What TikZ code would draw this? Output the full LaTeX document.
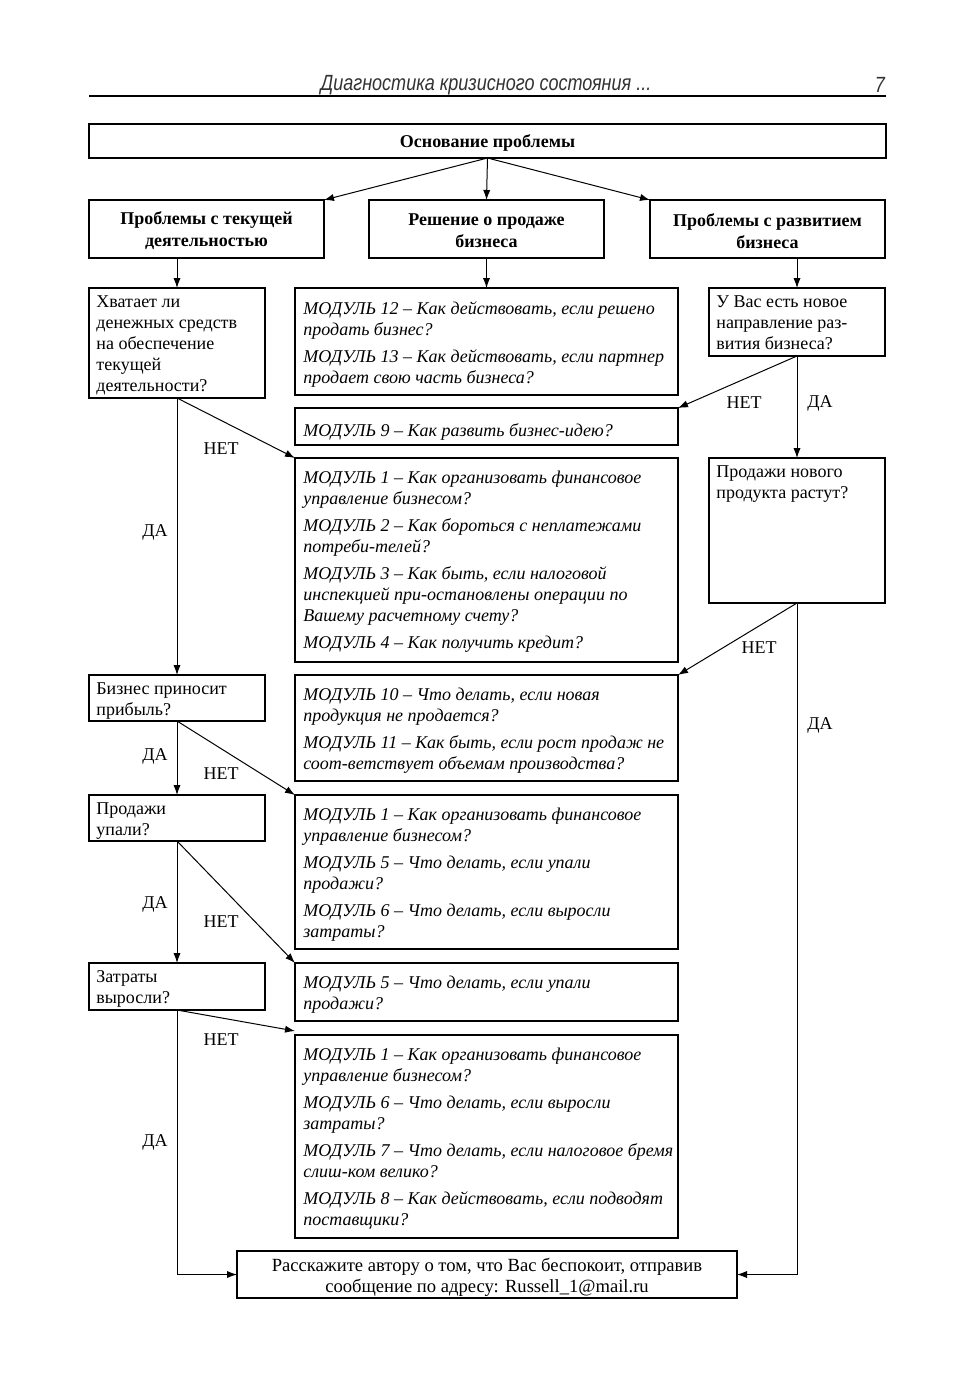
\documentclass[tikz,border=0pt]{standalone}
\usepackage{fontspec}
\setmainfont{Liberation Serif}
\newfontfamily\hdrfont[FakeStretch=0.82]{Liberation Sans}
\usetikzlibrary{arrows.meta}
\tikzset{
  box/.style={draw, line width=0.55pt, inner sep=0pt, outer sep=0pt},
  qtxt/.style={anchor=north west, inner sep=0pt, align=left,
    font=\fontsize{9}{10.5}\selectfont, execute at begin node=\strut},
  mtxt/.style={anchor=north west, inner sep=0pt, align=left,
    font=\fontsize{9}{10.5}\selectfont\itshape, execute at begin node=\strut},
  htxt/.style={inner sep=0pt, align=center, font=\fontsize{9}{11}\selectfont\bfseries},
  lbl/.style={inner sep=0pt, font=\fontsize{9}{10.5}\selectfont},
  arr/.style={-{Latex[length=5pt,width=3.6pt]}, line width=0.5pt}
}
\newcommand\mybox[5]{\node[box, minimum width={(#4-#2)*0.5pt}, minimum height={(#5-#3)*0.5pt}] (#1) at ({(#2+#4)/2},{(#3+#5)/2}) {};}
\begin{document}
\begin{tikzpicture}[x=0.5pt,y=-0.5pt]
\useasboundingbox[fill=white] (0,0) rectangle (975,1388);
% header
\node[inner sep=0pt, font=\hdrfont\itshape\fontsize{11}{13}\selectfont, text=black!80] (hdr) at (486,85) {Диагностика кризисного состояния ...};
\node[inner sep=0pt, font=\hdrfont\itshape\fontsize{11}{13}\selectfont, text=black!80] (pg) at (880,85) {7};
\coordinate (rl) at (89,96);
\coordinate (rr) at (886,96);
\draw[line width=0.6pt] (rl) -- (rr);
% top
\mybox{top}{89}{124}{886}{158}
\node[htxt] (topt) at ([yshift=-1pt]top.center) {Основание проблемы};
\mybox{h1}{89}{200}{324}{258}
\node[htxt] (h1t) at ([yshift=-1pt]h1.center) {Проблемы с текущей\\деятельностью};
\mybox{h2}{369}{200}{604}{258}
\node[htxt] (h2t) at ([yshift=-1pt]h2.center) {Решение о продаже\\бизнеса};
\mybox{h3}{650}{200}{885}{258}
\node[htxt] (h3t) at ([yshift=-1pt]h3.center) {Проблемы с развитием\\бизнеса};
% questions
\mybox{q1}{89}{288}{265}{398}
\node[qtxt] (q1t) at ([shift={(7,7)}]q1.north west) {Хватает ли\\денежных средств\\на обеспечение\\текущей\\деятельности?};
\mybox{q2}{709}{288}{885}{356}
\node[qtxt] (q2t) at ([shift={(7,7)}]q2.north west) {У Вас есть новое\\направление раз-\\вития бизнеса?};
\mybox{q3}{709}{458}{885}{603}
\node[qtxt] (q3t) at ([shift={(7,7)}]q3.north west) {Продажи нового\\продукта растут?};
\mybox{q4}{89}{675}{265}{721}
\draw[line width=1.2pt] (q4.south west) -- (q4.south east);
\node[qtxt] (q4t) at ([shift={(7,7)}]q4.north west) {Бизнес приносит\\прибыль?};
\mybox{q5}{89}{795}{265}{841}
\node[qtxt] (q5t) at ([shift={(7,7)}]q5.north west) {Продажи\\упали?};
\mybox{q6}{89}{963}{265}{1010}
\node[qtxt] (q6t) at ([shift={(7,7)}]q6.north west) {Затраты\\выросли?};
% modules
\mybox{m12}{295}{288}{678}{395}
\node[mtxt] (m12t) at ([shift={(8,13)}]m12.north west) {МОДУЛЬ 12 – Как действовать, если решено\\продать бизнес?\\[3pt]МОДУЛЬ 13 – Как действовать, если партнер\\продает свою часть бизнеса?};
\mybox{m9}{295}{408}{678}{445}
\node[mtxt] (m9t) at ([shift={(8,13)}]m9.north west) {МОДУЛЬ 9 – Как развить бизнес-идею?};
\mybox{m1}{295}{458}{678}{662}
\node[mtxt] (m1t) at ([shift={(8,13)}]m1.north west) {МОДУЛЬ 1 – Как организовать финансовое\\управление бизнесом?\\[3pt]МОДУЛЬ 2 – Как бороться с неплатежами\\потреби-телей?\\[3pt]МОДУЛЬ 3 – Как быть, если налоговой\\инспекцией при-остановлены операции по\\Вашему расчетному счету?\\[3pt]МОДУЛЬ 4 – Как получить кредит?};
\mybox{m10}{295}{675}{678}{781}
\node[mtxt] (m10t) at ([shift={(8,13)}]m10.north west) {МОДУЛЬ 10 – Что делать, если новая\\продукция не продается?\\[3pt]МОДУЛЬ 11 – Как быть, если рост продаж не\\соот-ветствует объемам производства?};
\mybox{m1b}{295}{795}{678}{949}
\node[mtxt] (m1bt) at ([shift={(8,13)}]m1b.north west) {МОДУЛЬ 1 – Как организовать финансовое\\управление бизнесом?\\[3pt]МОДУЛЬ 5 – Что делать, если упали\\продажи?\\[3pt]МОДУЛЬ 6 – Что делать, если выросли\\затраты?};
\mybox{m5}{295}{963}{678}{1021}
\node[mtxt] (m5t) at ([shift={(8,13)}]m5.north west) {МОДУЛЬ 5 – Что делать, если упали\\продажи?};
\mybox{m1c}{295}{1035}{678}{1238}
\node[mtxt] (m1ct) at ([shift={(8,13)}]m1c.north west) {МОДУЛЬ 1 – Как организовать финансовое\\управление бизнесом?\\[3pt]МОДУЛЬ 6 – Что делать, если выросли\\затраты?\\[3pt]МОДУЛЬ 7 – Что делать, если налоговое бремя\\слиш-ком велико?\\[3pt]МОДУЛЬ 8 – Как действовать, если подводят\\поставщики?};
% final
\mybox{fin}{237}{1251}{737}{1298}
\node[inner sep=0pt, align=center, font=\fontsize{9.3}{10.7}\selectfont] (fint) at ([yshift=-1.5pt]fin.center) {Расскажите автору о том, что Вас беспокоит, отправив\\сообщение по адресу: Russell\_1@mail.ru};
% connectors
\draw[arr] (top.south) -- (h1.north east);
\draw[arr] (top.south) -- (h2.north);
\draw[arr] (top.south) -- (h3.north west);
\draw[arr] (h1.south -| q1.north) -- (q1.north);
\draw[arr] (h2.south) -- (m12.north);
\draw[arr] (h3.south -| q2.north) -- (q2.north);
\draw[arr] (q2.south) -- (m9.north east);
\draw[arr] (q2.south) -- (q3.north);
\draw[arr] (q1.south) -- (m1.north west);
\draw[arr] (q1.south) -- (q4.north);
\draw[arr] (q3.south) -- (m10.north east);
\draw[arr] (q3.south) |- (fin.east);
\draw[arr] (q4.south) -- (q5.north);
\draw[arr] (q4.south) -- (m1b.north west);
\draw[arr] (q5.south) -- (q6.north);
\draw[arr] (q5.south) -- (m5.north west);
\draw[arr] (q6.south) -- ([yshift=2]m1c.north west);
\draw[arr] (q6.south) |- (fin.west);
% labels
\node[lbl] (l1) at (744,403) {НЕТ};
\node[lbl] (l2) at (820,403) {ДА};
\node[lbl] (l3) at (221,449) {НЕТ};
\node[lbl] (l4) at (155,532) {ДА};
\node[lbl] (l5) at (759,648) {НЕТ};
\node[lbl] (l6) at (820,725) {ДА};
\node[lbl] (l7) at (155,756) {ДА};
\node[lbl] (l8) at (221,774) {НЕТ};
\node[lbl] (l9) at (155,904) {ДА};
\node[lbl] (l10) at (221,922) {НЕТ};
\node[lbl] (l11) at (221,1040) {НЕТ};
\node[lbl] (l12) at (155,1142) {ДА};
\end{tikzpicture}
\end{document}
